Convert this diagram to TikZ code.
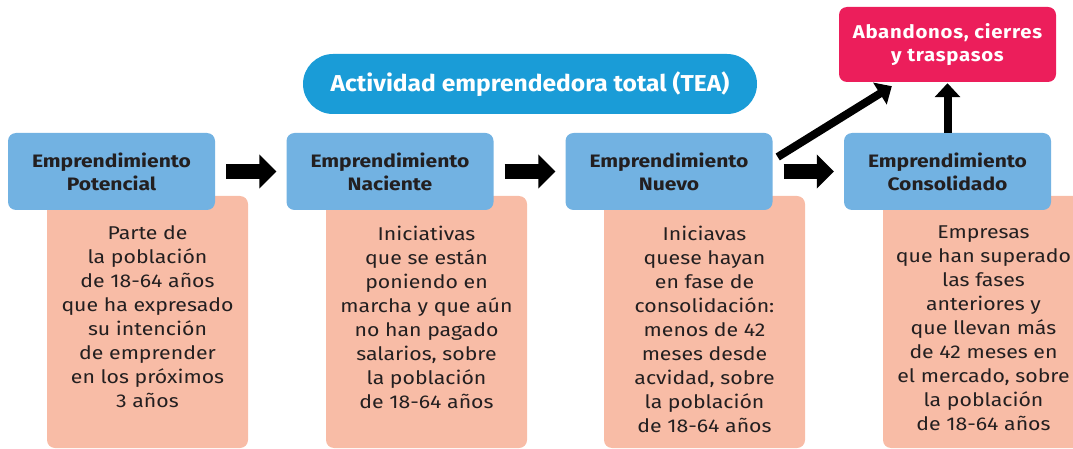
\documentclass[tikz,border=0pt]{standalone}
\usepackage{fontspec}
\setmainfont{Fira Sans}
\newfontfamily\bodyfont[FakeStretch=1.15]{Fira Sans}
\newfontfamily\hdrfont[FakeStretch=1.17]{Fira Sans}
\newfontfamily\teafont[FakeStretch=1.07]{Fira Sans}
\newfontfamily\exitfont[FakeStretch=1.1,LetterSpace=4]{Fira Sans}
\usetikzlibrary{arrows.meta,calc}
\definecolor{hdrblue}{HTML}{72B2E2}
\definecolor{bodysal}{HTML}{F8BCA6}
\definecolor{teablue}{HTML}{1A9CD7}
\definecolor{exitred}{HTML}{EC1E5B}
\definecolor{ink}{HTML}{231F20}
\tikzset{
  hdr/.style={fill=hdrblue, rounded corners=8pt, minimum width=207pt, minimum height=77pt, inner sep=0pt, align=center, font=\hdrfont\bfseries\fontsize{18}{23}\selectfont, text=ink},
  body/.style={fill=bodysal, rounded corners=8pt, minimum width=201pt, minimum height=252pt, inner sep=0pt},
  bodytext/.style={align=center, font=\bodyfont\fontsize{18.5}{24}\selectfont, text=ink, anchor=north, inner sep=0pt},
  flow/.style={line width=15pt, -{Triangle[width=33pt,length=17pt]}, shorten <=11pt, shorten >=10pt, draw=black},
  exit/.style={line width=8pt, -{Triangle[width=25pt,length=14pt]}, draw=black},
}
\begin{document}
\begin{tikzpicture}[x=1pt,y=-1pt]
\useasboundingbox (0,0) rectangle (1073,449);
% body boxes
\node[body] (s1) at (147.5,322) {};
\node[body] (s2) at (426.5,322) {};
\node[body] (s3) at (704.5,322) {};
\node[body] (s4) at (983.5,322) {};
% header boxes
\node[hdr] (b1) at (111.5,171.5) {Emprendimiento\\Potencial};
\node[hdr] (b2) at (390,171.5) {Emprendimiento\\Naciente};
\node[hdr] (b3) at (669,171.5) {Emprendimiento\\Nuevo};
\node[hdr] (b4) at (947.5,171.5) {Emprendimiento\\Consolidado};
% top boxes
\node[fill=teablue, rounded corners=30pt, minimum width=454pt, minimum height=60pt, inner sep=0pt, text=white, font=\teafont\bfseries\fontsize{23}{26}\selectfont] (tea) at (530,84) {Actividad emprendedora total (TEA)};
\node[fill=exitred, rounded corners=8pt, minimum width=217pt, minimum height=75pt, inner sep=0pt, align=center, text=white, font=\exitfont\bfseries\fontsize{18.5}{23}\selectfont] (r) at (947.5,44.5) {Abandonos, cierres\\y traspasos};
% body texts
\node[bodytext] (t1) at ($(s1.north)+(0,30)$) {Parte de\\la población\\de 18-64 años\\que ha expresado\\su intención\\de emprender\\en los próximos\\3 años};
\node[bodytext] (t2) at ($(s2.north)+(0,30)$) {Iniciativas\\que se están\\poniendo en\\marcha y que aún\\no han pagado\\salarios, sobre\\la población\\de 18-64 años};
\node[bodytext] (t3) at ($(s3.north)+(0,30)$) {Iniciavas\\quese hayan\\en fase de\\consolidación:\\menos de 42\\meses desde\\acvidad, sobre\\la población\\de 18-64 años};
\node[bodytext] (t4) at ($(s4.north)+(0,30)$) {Empresas\\que han superado\\las fases\\anteriores y\\que llevan más\\de 42 meses en\\el mercado, sobre\\la población\\de 18-64 años};
% arrows
\draw[flow] (b1.east) -- (b2.west);
\draw[flow] (b2.east) -- (b3.west);
\draw[flow] (b3.east) -- (b4.west);
\coordinate (dstart) at ($(b3.east)+(5,-14.5)$);
\coordinate (dend) at ($(r.south west)+(53,4)$);
\draw[exit] (dstart) -- (dend);
\draw[exit, shorten >=1pt] (b4.north) -- (r.south);
\end{tikzpicture}
\end{document}
